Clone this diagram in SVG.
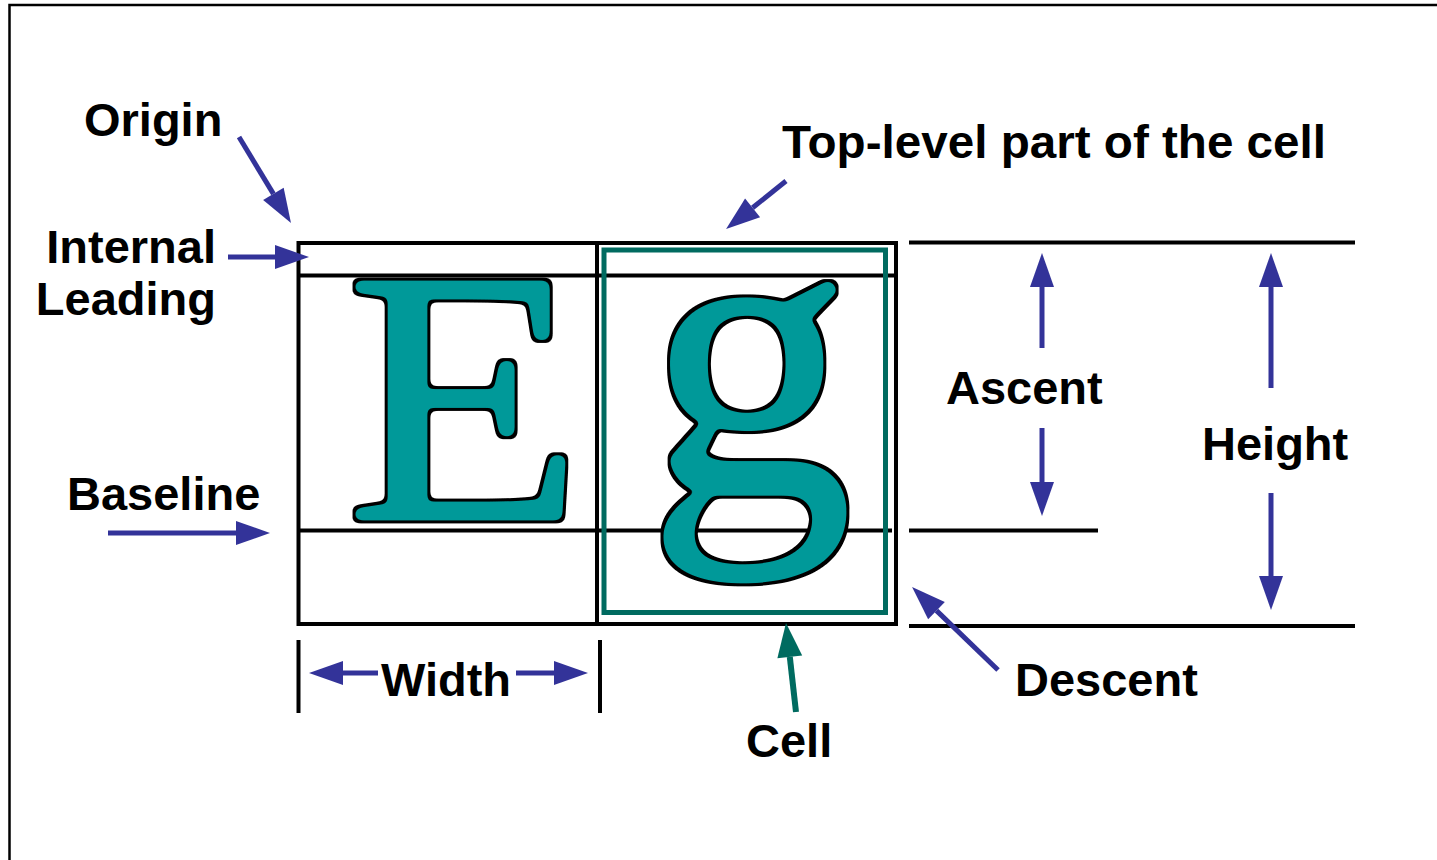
<svg xmlns="http://www.w3.org/2000/svg" width="1437" height="860" viewBox="0 0 1437 860">
<style>
.lbl{font-family:"Liberation Sans",Arial,sans-serif;font-weight:bold;font-size:47px;fill:#000}
.blk{stroke:#000;stroke-width:4;fill:none}
.arr{stroke:#333399;stroke-width:5;fill:none;marker-end:url(#ah)}
.glyph{font-family:"Liberation Serif","Times New Roman",serif;fill:#009999;filter:url(#blob)}
</style>
<defs>
<marker id="ah" markerUnits="userSpaceOnUse" markerWidth="34" markerHeight="24" refX="0" refY="12" orient="auto" overflow="visible">
<path d="M0,0 L34,12 L0,24 Z" fill="#333399"/>
</marker>
<marker id="aht" markerUnits="userSpaceOnUse" markerWidth="34" markerHeight="25" refX="0" refY="12.5" orient="auto" overflow="visible">
<path d="M0,0 L34,12.5 L0,25 Z" fill="#006b60"/>
</marker>
<filter id="blob" x="-10%" y="-10%" width="120%" height="120%" color-interpolation-filters="sRGB">
<feGaussianBlur in="SourceAlpha" stdDeviation="3.5" result="b"/>
<feComponentTransfer in="b" result="base">
<feFuncA type="linear" slope="10" intercept="-3"/>
</feComponentTransfer>
<feMorphology in="base" operator="dilate" radius="2.5" result="outer"/>
<feFlood flood-color="#000"/>
<feComposite in2="outer" operator="in" result="black"/>
<feFlood flood-color="#009999"/>
<feComposite in2="base" operator="in" result="teal"/>
<feMerge><feMergeNode in="black"/><feMergeNode in="teal"/></feMerge>
</filter>
</defs>
<rect width="1437" height="860" fill="#fff"/>
<rect x="9.5" y="5" width="1500" height="1000" fill="none" stroke="#000" stroke-width="2.5"/>

<g id="cell-boxes">
<rect x="298.5" y="243" width="298.5" height="381" class="blk"/>
<rect x="597" y="243" width="299" height="381" class="blk"/>
<line x1="297" y1="275.5" x2="896" y2="275.5" class="blk"/>
<line x1="297" y1="530.5" x2="892" y2="530.5" class="blk"/>
</g>

<g id="glyph-E">
<text x="0" y="0" class="glyph" font-size="362" transform="translate(345,519) scale(1.08,1)">E</text>
</g>
<g id="glyph-g">
<text x="0" y="0" class="glyph" font-size="412" transform="translate(647,493)">g</text>
</g>

<g id="cell">
<rect x="604" y="250" width="281.5" height="362.5" fill="none" stroke="#006b60" stroke-width="5"/>
</g>

<g id="metric-lines">
<line x1="909" y1="242.5" x2="1355" y2="242.5" class="blk"/>
<line x1="909" y1="530.5" x2="1098" y2="530.5" class="blk"/>
<line x1="909" y1="626" x2="1355" y2="626" class="blk"/>
<line x1="298.5" y1="640" x2="298.5" y2="713" class="blk"/>
<line x1="600" y1="640" x2="600" y2="713" class="blk"/>
</g>

<g id="connectors">
<line x1="239" y1="137" x2="273.4" y2="193.9" class="arr"/>
<line x1="228" y1="257" x2="275" y2="257" class="arr"/>
<line x1="108" y1="533" x2="236" y2="533" class="arr"/>
<line x1="786" y1="181" x2="752.6" y2="207.8" class="arr"/>
<line x1="1042" y1="348" x2="1042" y2="287" class="arr"/>
<line x1="1042" y1="428" x2="1042" y2="482" class="arr"/>
<line x1="1271" y1="388" x2="1271" y2="287" class="arr"/>
<line x1="1271" y1="493" x2="1271" y2="576" class="arr"/>
<line x1="998" y1="670" x2="936.5" y2="610.6" class="arr"/>
<line x1="378" y1="673" x2="343" y2="673" class="arr"/>
<line x1="516" y1="673" x2="554" y2="673" class="arr"/>
<line x1="796" y1="712" x2="789.8" y2="656.8" stroke="#006b60" stroke-width="6" marker-end="url(#aht)"/>
</g>

<g id="labels">
<text x="84" y="136" class="lbl">Origin</text>
<text x="216" y="263" class="lbl" text-anchor="end">Internal</text>
<text x="216" y="315" class="lbl" text-anchor="end">Leading</text>
<text x="67" y="510" class="lbl">Baseline</text>
<text x="782" y="158" class="lbl" font-size="50" textLength="544" lengthAdjust="spacingAndGlyphs">Top-level part of the cell</text>
<text x="946" y="404" class="lbl">Ascent</text>
<text x="1202" y="460" class="lbl">Height</text>
<text x="381" y="696" class="lbl">Width</text>
<text x="746" y="757" class="lbl">Cell</text>
<text x="1015" y="696" class="lbl">Descent</text>
</g>
</svg>
